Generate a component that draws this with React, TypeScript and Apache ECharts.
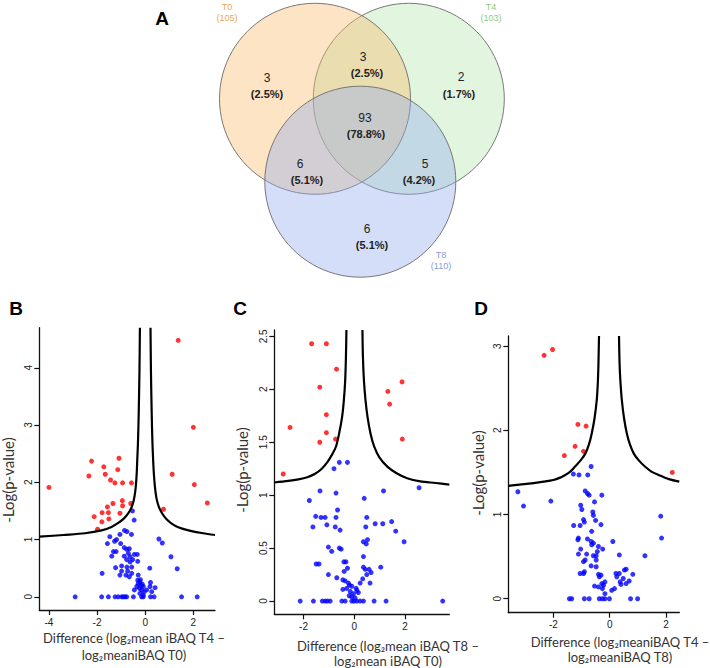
import React, { useEffect, useRef } from 'react';
import * as echarts from 'echarts';

// ---------- Venn data (panel A) ----------
const vennSetNames = ['T0', 'T4', 'T8'];
const vennSetSizes = [105, 103, 110];
// regions: T0 only, T0∩T4, T4 only, all, T0∩T8, T4∩T8, T8 only
const vennRegionCounts = [3, 3, 2, 93, 6, 5, 6];

// ---------- Volcano data (panels B, C, D) : [difference, -log p] ----------
const bRed = [
  [1.37, 4.48], [2.0, 2.96], [-2.23, 2.37], [-1.09, 2.42], [-1.72, 2.27], [-2.34, 2.11],
  [-1.66, 2.14], [-1.14, 2.22], [-1.44, 2.04], [-1.26, 1.99], [-0.94, 1.99], [-0.57, 1.99],
  [1.12, 2.14], [2.04, 1.96], [-4.0, 1.91], [2.58, 1.64], [-0.95, 1.68], [-0.60, 1.63],
  [-1.34, 1.63], [-1.57, 1.57], [-0.94, 1.59], [0.76, 1.53], [-1.05, 1.46], [-1.53, 1.47],
  [-1.79, 1.47], [-2.12, 1.40], [-1.80, 1.31], [-1.51, 1.36], [-1.98, 1.18],
];
const bBlue = [
  [-0.53, 1.5], [-0.46, 1.34], [-0.86, 1.16], [-0.76, 1.14], [-1.05, 1.09], [-0.57, 1.09],
  [-1.47, 1.05], [-1.19, 1.0], [-1.27, 0.97], [-1.57, 0.93], [-1.02, 0.93],
  [0.57, 1.01], [0.71, 0.94], [1.07, 0.7], [1.33, 0.49],
  [-0.87, 0.86], [-0.77, 0.83], [-0.66, 0.84], [-1.21, 0.79], [-1.32, 0.79], [-0.7, 0.76],
  [-0.45, 0.74], [-0.33, 0.74], [-1.39, 0.71], [-0.87, 0.71], [-0.63, 0.7], [-0.77, 0.65],
  [-0.52, 0.65], [-0.63, 0.61], [-0.31, 0.62],
  [-1.23, 0.51], [-0.98, 0.54], [-0.76, 0.52], [-0.56, 0.52], [0.19, 0.5], [-0.98, 0.45],
  [-0.73, 0.45], [-0.8, 0.38], [-0.56, 0.41], [-1.79, 0.41], [-1.05, 0.38], [-0.66, 0.35],
  [-0.29, 0.38], [-0.31, 0.29], [-0.22, 0.26], [-0.29, 0.23], [-0.17, 0.2], [-0.35, 0.18],
  [-0.08, 0.18], [-0.24, 0.15], [-0.15, 0.12], [-0.04, 0.09], [0.2, 0.18], [0.41, 0.16],
  [0.27, 0.09], [-0.45, 0.12], [-0.22, 0.06], [-0.08, 0.03], [0.22, 0.25], [0.06, 0.12],
  [-0.2, 0.3], [-0.12, 0.22],
  [-2.91, 0], [-1.81, 0], [-1.53, 0], [-1.25, 0], [-1.12, 0], [-0.98, 0], [-0.91, 0],
  [-0.84, 0], [-0.77, 0], [-0.49, 0], [-0.15, 0], [-0.08, 0], [0.22, 0], [0.37, 0],
  [1.51, 0], [2.16, 0],
];
const bCurveLeft = [
  [-4.4, 1.05], [-3.4, 1.08], [-2.5, 1.11], [-1.81, 1.16], [-1.4, 1.22], [-1.12, 1.29],
  [-0.88, 1.37], [-0.7, 1.46], [-0.57, 1.56], [-0.49, 1.66], [-0.42, 1.82], [-0.38, 1.98],
  [-0.35, 2.18], [-0.33, 2.39], [-0.3, 2.7], [-0.27, 3.2], [-0.24, 3.9], [-0.22, 4.7],
];
const bCurveRight = [
  [0.22, 4.7], [0.24, 3.9], [0.27, 3.2], [0.3, 2.7], [0.33, 2.39], [0.36, 2.15],
  [0.41, 1.9], [0.47, 1.72], [0.56, 1.58], [0.7, 1.46], [0.88, 1.36], [1.1, 1.28],
  [1.4, 1.21], [1.8, 1.16], [2.4, 1.11], [2.9, 1.08],
];

const cRed = [
  [-1.68, 2.43], [-1.1, 2.43], [-0.7, 2.19], [-1.36, 2.02], [1.88, 2.07], [1.32, 1.98],
  [1.39, 1.86], [-1.1, 1.76], [-2.53, 1.64], [-1.1, 1.59], [-1.36, 1.5], [-0.74, 1.53],
  [1.89, 1.53], [-2.8, 1.2],
];
const cBlue = [
  [-0.59, 1.31], [-0.27, 1.31], [-0.8, 1.25], [-1.35, 1.04], [-0.72, 1.02], [-1.77, 0.95],
  [0.39, 0.97], [1.15, 1.04], [2.55, 1.07], [-0.66, 0.86], [-1.52, 0.8], [-1.31, 0.79],
  [-1.15, 0.79], [-0.72, 0.79], [0.49, 0.79], [-1.63, 0.7], [-1.08, 0.72], [-0.75, 0.7],
  [-0.56, 0.67], [0.45, 0.7], [0.82, 0.73], [1.12, 0.73], [1.47, 0.75], [1.63, 0.66],
  [1.96, 0.56], [0.36, 0.56], [0.47, 0.54], [0.52, 0.58], [-1.02, 0.51], [-0.89, 0.47],
  [-0.59, 0.5], [-0.52, 0.49], [0.36, 0.42], [-1.5, 0.35], [-1.39, 0.35], [-0.41, 0.37],
  [-0.33, 0.37], [-0.27, 0.31], [-0.4, 0.28], [-1.02, 0.25], [-0.69, 0.22], [-0.45, 0.2],
  [-0.36, 0.19], [0.36, 0.32], [0.43, 0.3], [0.58, 0.3], [0.66, 0.27], [1.04, 0.32],
  [0.62, 0.17], [0.49, 0.25], [0.33, 0.21], [0.23, 0.17], [0.1, 0.1], [-0.19, 0.15],
  [-0.1, 0.14], [-0.45, 0.11], [-0.3, 0.12], [-0.16, 0.09], [-0.03, 0.07], [-0.1, 0.04],
  [0.03, 0.03], [0.16, 0.08], [-0.23, 0.17], [-0.2, 0.05], [0.07, 0.12],
  [-2.13, 0], [-1.61, 0], [-1.26, 0], [-1.15, 0], [-1.06, 0], [-0.95, 0], [-0.49, 0],
  [-0.36, 0], [-0.1, 0], [-0.01, 0], [0.1, 0], [0.23, 0], [0.36, 0], [0.78, 0],
  [1.25, 0], [3.48, 0],
];
const cCurveLeft = [
  [-3.15, 1.12], [-2.6, 1.135], [-2.2, 1.15], [-1.85, 1.17], [-1.56, 1.2], [-1.28, 1.25],
  [-1.04, 1.32], [-0.86, 1.39], [-0.72, 1.46], [-0.6, 1.58], [-0.48, 1.74], [-0.41, 1.9],
  [-0.36, 2.08], [-0.33, 2.3], [-0.31, 2.56],
];
const cCurveRight = [
  [0.32, 2.56], [0.34, 2.3], [0.38, 2.08], [0.44, 1.9], [0.52, 1.74], [0.64, 1.58],
  [0.78, 1.46], [0.98, 1.36], [1.3, 1.27], [1.65, 1.21], [2.08, 1.16], [2.6, 1.13],
  [3.2, 1.115], [3.74, 1.1],
];

const dRed = [
  [-2.33, 2.89], [-2.03, 2.96], [-1.13, 2.07], [-0.84, 2.05], [-1.23, 1.81], [-1.61, 1.7],
  [-0.93, 1.75], [2.22, 1.5],
];
const dBlue = [
  [-0.66, 1.57], [-1.29, 1.48], [-1.09, 1.47], [-0.78, 1.47], [-3.26, 1.27], [-3.06, 1.1],
  [-2.09, 1.16], [-0.87, 1.28], [-0.79, 1.25], [-0.73, 1.23], [-0.28, 1.23], [-0.54, 1.15],
  [-1.03, 1.11], [-0.99, 1.06], [-0.6, 1.03], [-0.58, 0.99], [-0.5, 0.93], [-0.93, 0.94],
  [-0.9, 0.91], [-1.28, 0.87], [-1.05, 0.87], [-0.31, 0.88], [-0.64, 0.8], [-1.11, 0.72],
  [-1.13, 0.7], [-0.79, 0.71], [-0.66, 0.68], [-0.58, 0.66], [-0.64, 0.64], [0.11, 0.68],
  [-1.03, 0.59], [-0.4, 0.62], [-0.25, 0.59], [-1.11, 0.53], [-0.82, 0.53], [-0.44, 0.56],
  [-0.48, 0.51], [-0.58, 0.51], [0.34, 0.52], [-0.87, 0.46], [-0.93, 0.44], [-0.48, 0.46],
  [-0.66, 0.39], [-0.48, 0.38], [-1.05, 0.3], [-0.9, 0.32], [-0.93, 0.3], [-0.4, 0.29],
  [-0.31, 0.28], [-0.37, 0.26], [0.22, 0.3], [0.34, 0.3], [0.25, 0.26], [-0.54, 0.15],
  [-0.4, 0.14], [-0.28, 0.18], [-0.22, 0.16], [-0.17, 0.2], [-0.26, 0.12], [-0.17, 0.06],
  [0.07, 0.1], [0.17, 0.12], [0.4, 0.17], [0.48, 0.24], [0.37, 0.2], [1.81, 0.98],
  [1.84, 0.72], [1.25, 0.51], [0.58, 0.35], [0.52, 0.34], [0.82, 0.29], [0.69, 0.21],
  [0.58, 0.18],
  [-1.43, 0], [-1.35, 0], [-0.9, 0], [-0.73, 0], [-0.37, 0], [-0.26, 0], [-0.17, 0],
  [-0.01, 0], [0.74, 0], [0.99, 0],
];
const dCurveLeft = [
  [-3.6, 1.34], [-3.2, 1.355], [-2.77, 1.37], [-2.35, 1.39], [-2.0, 1.41], [-1.78, 1.435],
  [-1.58, 1.47], [-1.4, 1.51], [-1.23, 1.57], [-1.04, 1.64], [-0.87, 1.72], [-0.74, 1.83],
  [-0.64, 1.96], [-0.54, 2.14], [-0.46, 2.36], [-0.42, 2.58], [-0.4, 2.79], [-0.38, 3.12],
];
const dCurveRight = [
  [0.33, 3.12], [0.35, 2.79], [0.38, 2.58], [0.43, 2.36], [0.51, 2.14], [0.61, 1.96],
  [0.72, 1.83], [0.86, 1.72], [1.04, 1.64], [1.25, 1.57], [1.48, 1.51], [1.73, 1.47],
  [2.1, 1.42], [2.47, 1.39],
];

// tick values
const bXTicks = [-4, -2, 0, 2];
const bYTicks = [0, 1, 2, 3, 4];
const cXTicks = [-2, 0, 2];
const cYTicks = [0, 0.5, 1, 1.5, 2, 2.5];
const dXTicks = [-2, 0, 2];
const dYTicks = [0, 1, 2, 3];

// axis titles
const yTitle = '-Log(p-value)';
const bXTitle = ['Difference (log₂mean iBAQ T4 –', 'log₂meaniBAQ T0)'];
const cXTitle = ['Difference (log₂mean iBAQ T8 –', 'log₂mean iBAQ T0)'];
const dXTitle = ['Difference (log₂meaniBAQ T4 –', 'log₂meaniBAQ T8)'];

// ---------- layout / styles ----------
const TICK_FONT = 'Liberation Sans';
const TITLE_FONT = 'Lato';
const AXIS_COLOR = '#111';

const panels = [
  { grid: { left: 39.3, top: 327.7, width: 175.7, height: 282.3 }, x: [-4.4, 2.9], y: [-0.23, 4.7] },
  { grid: { left: 274.3, top: 330, width: 175, height: 284.3 }, x: [-3.15, 3.74], y: [-0.125, 2.56] },
  { grid: { left: 508.3, top: 336, width: 171, height: 276.7 }, x: [-3.6, 2.47], y: [-0.166, 3.12] },
];

const vennCircles = [
  // drawn in order T4, T0, T8
  { cx: 408.8, cy: 98.8, color: 'rgba(183,230,175,0.4)' },
  { cx: 315, cy: 98.8, color: 'rgba(248,188,108,0.4)' },
  { cx: 360.3, cy: 181.7, color: 'rgba(150,172,238,0.4)' },
];
const VENN_R = 95.5;
const vennRegionPos = [
  [[267, 78], [267, 94]],
  [[363, 57], [367, 73]],
  [[461, 77], [459, 94]],
  [[365, 118], [366, 134]],
  [[300, 164], [307, 180]],
  [[425, 164], [419, 180]],
  [[367, 229], [372, 245]],
];
const vennLabelPos = [[227, 7], [491, 7], [441, 255]];
const vennLabelColors = ['#E5A85A', '#8DC98A', '#8A9BD8'];

function text(x: number, y: number, t: string, size: number, opts: any = {}) {
  return {
    type: 'text',
    x,
    y,
    rotation: opts.rotation || 0,
    silent: true,
    style: {
      text: t,
      fontSize: size,
      fontFamily: opts.font || 'Liberation Sans',
      fontWeight: opts.weight || 'normal',
      fill: opts.color || '#222',
      align: 'center',
      verticalAlign: 'middle',
      textAlign: 'center',
      textVerticalAlign: 'middle',
    },
  };
}

export default function App() {
  const ref = useRef<HTMLDivElement>(null);
  useEffect(() => {
    if (!ref.current) return;
    const chart = echarts.init(ref.current, null, { renderer: 'svg', width: 710, height: 668 });

    const xTicksAll = [bXTicks, cXTicks, dXTicks];
    const yTicksAll = [bYTicks, cYTicks, dYTicks];
    const redAll = [bRed, cRed, dRed];
    const blueAll = [bBlue, cBlue, dBlue];
    const curvesAll = [
      [bCurveLeft, bCurveRight],
      [cCurveLeft, cCurveRight],
      [dCurveLeft, dCurveRight],
    ];

    const grid = panels.map((p) => ({ ...p.grid, containLabel: false }));
    const xAxis = panels.map((p, i) => ({
      type: 'value',
      gridIndex: i,
      min: p.x[0],
      max: p.x[1],
      axisLine: { show: true, onZero: false, lineStyle: { color: AXIS_COLOR, width: 1.3 } },
      axisTick: { show: true, length: 5, customValues: xTicksAll[i], lineStyle: { color: AXIS_COLOR, width: 1.2 } },
      axisLabel: {
        customValues: xTicksAll[i],
        margin: 7,
        fontSize: 10,
        fontFamily: TICK_FONT,
        color: '#222',
        formatter: (v: number) => String(v),
      },
      splitLine: { show: false },
    }));
    const yAxis = panels.map((p, i) => ({
      type: 'value',
      gridIndex: i,
      min: p.y[0],
      max: p.y[1],
      axisLine: { show: true, onZero: false, lineStyle: { color: AXIS_COLOR, width: 1.3 } },
      axisTick: { show: true, length: 5, customValues: yTicksAll[i], lineStyle: { color: AXIS_COLOR, width: 1.2 } },
      axisLabel: {
        customValues: yTicksAll[i],
        rotate: 90,
        margin: 6,
        fontSize: 10,
        fontFamily: TICK_FONT,
        color: '#222',
        formatter: (v: number) => String(v),
      },
      splitLine: { show: false },
    }));

    const series: any[] = [];
    panels.forEach((_, i) => {
      series.push({
        type: 'scatter',
        xAxisIndex: i,
        yAxisIndex: i,
        data: blueAll[i],
        symbolSize: 5,
        itemStyle: { color: '#0000FF' },
        silent: true,
      });
      series.push({
        type: 'scatter',
        xAxisIndex: i,
        yAxisIndex: i,
        data: redAll[i],
        symbolSize: 5,
        itemStyle: { color: '#FF0000' },
        silent: true,
      });
      curvesAll[i].forEach((c) => {
        series.push({
          type: 'line',
          xAxisIndex: i,
          yAxisIndex: i,
          data: c,
          showSymbol: false,
          symbol: 'none',
          smooth: 0.3,
          lineStyle: { color: '#000', width: 2.2 },
          silent: true,
          clip: true,
        });
      });
    });

    const total = vennRegionCounts.reduce((a, b) => a + b, 0);
    const graphics: any[] = [];
    vennCircles.forEach((c) => {
      graphics.push({
        type: 'circle',
        shape: { cx: c.cx, cy: c.cy, r: VENN_R },
        silent: true,
        style: { fill: c.color, stroke: '#6b6b6b', lineWidth: 0.9 },
      });
    });
    vennRegionCounts.forEach((n, i) => {
      const pct = ((n / total) * 100).toFixed(1);
      graphics.push(text(vennRegionPos[i][0][0], vennRegionPos[i][0][1], String(n), 12));
      graphics.push(text(vennRegionPos[i][1][0], vennRegionPos[i][1][1], `(${pct}%)`, 11, { weight: 'bold' }));
    });
    vennSetNames.forEach((name, i) => {
      const [x, y] = vennLabelPos[i];
      graphics.push(text(x, y, name, 9, { color: vennLabelColors[i] }));
      graphics.push(text(x, y + 11, `(${vennSetSizes[i]})`, 9, { color: vennLabelColors[i] }));
    });

    // panel letters
    graphics.push(text(162, 18, 'A', 19, { weight: 'bold', color: '#000' }));
    graphics.push(text(16, 308, 'B', 19, { weight: 'bold', color: '#000' }));
    graphics.push(text(240, 308, 'C', 19, { weight: 'bold', color: '#000' }));
    graphics.push(text(481, 308, 'D', 19, { weight: 'bold', color: '#000' }));

    // y titles
    const yTitlePos = [[8, 480], [242, 470], [478, 473]];
    yTitlePos.forEach(([x, y]) => {
      graphics.push(text(x, y, yTitle, 15, { rotation: Math.PI / 2, font: TITLE_FONT, color: '#333' }));
    });
    // x titles
    const xTitles = [bXTitle, cXTitle, dXTitle];
    const xTitlePos = [[134, 638, 655], [388, 646, 661], [620, 642, 657]];
    xTitles.forEach((t, i) => {
      const [x, y1, y2] = xTitlePos[i];
      graphics.push(text(x, y1, t[0], 13, { font: TITLE_FONT, color: '#333' }));
      graphics.push(text(x, y2, t[1], 13, { font: TITLE_FONT, color: '#333' }));
    });

    chart.setOption({
      animation: false,
      backgroundColor: '#fff',
      grid,
      xAxis,
      yAxis,
      series,
      graphic: { elements: graphics },
    });
    return () => chart.dispose();
  }, []);
  return <div ref={ref} style={{ position: 'absolute', left: 0, top: 0, width: 710, height: 668 }} />;
}
